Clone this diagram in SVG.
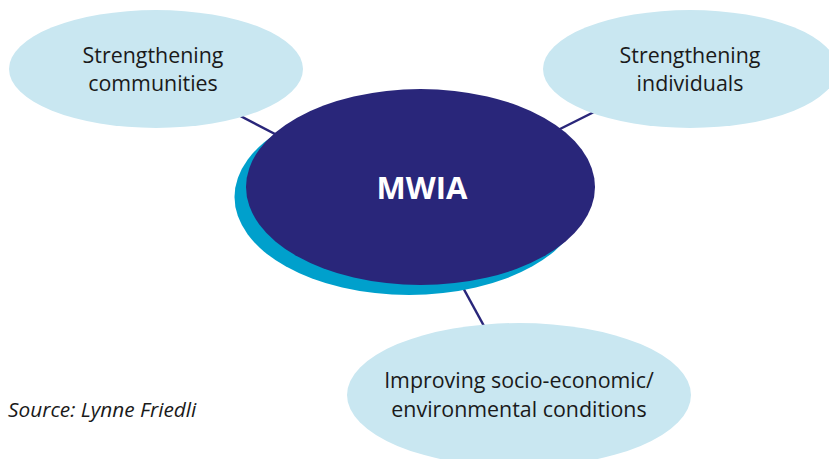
<svg xmlns="http://www.w3.org/2000/svg" width="829" height="459" viewBox="0 0 829 459">
<style>
.conn line{stroke:#29267a;stroke-width:2.5}
.outer{fill:#c9e7f1}
.lbl{font-family:"Open Sans","Noto Sans",sans-serif;font-size:21.4px;fill:#1a1a1a;text-anchor:middle}
.hub{font-family:"Open Sans","Noto Sans",sans-serif;font-size:31px;font-weight:bold;fill:#ffffff;text-anchor:middle}
.src{font-family:"Open Sans","Noto Sans",sans-serif;font-size:20.8px;font-style:italic;fill:#1a1a1a}
</style>
<rect width="829" height="459" fill="#ffffff"/>
<g id="connectors" class="conn">
<line x1="200" y1="95" x2="300" y2="147"/>
<line x1="620" y1="99" x2="540" y2="139"/>
<line x1="455" y1="273" x2="490" y2="337"/>
</g>
<g id="node-communities">
<ellipse class="outer" cx="156" cy="69" rx="147" ry="59"/>
<text class="lbl" x="153" y="63">Strengthening</text>
<text class="lbl" x="153" y="91">communities</text>
</g>
<g id="node-individuals">
<ellipse class="outer" cx="690" cy="69" rx="147" ry="59"/>
<text class="lbl" x="690" y="63">Strengthening</text>
<text class="lbl" x="690" y="91">individuals</text>
</g>
<g id="node-conditions">
<ellipse class="outer" cx="519" cy="395" rx="172" ry="72"/>
<text class="lbl" x="519" y="388">Improving socio-economic/</text>
<text class="lbl" x="519" y="417">environmental conditions</text>
</g>
<g id="node-mwia">
<ellipse cx="409" cy="197" rx="174.5" ry="98" fill="#00a0cc"/>
<ellipse cx="420.5" cy="187" rx="174.5" ry="98" fill="#29267a"/>
<text class="hub" x="422" y="199">MWIA</text>
</g>
<text class="src" x="8" y="417">Source: Lynne Friedli</text>
</svg>
